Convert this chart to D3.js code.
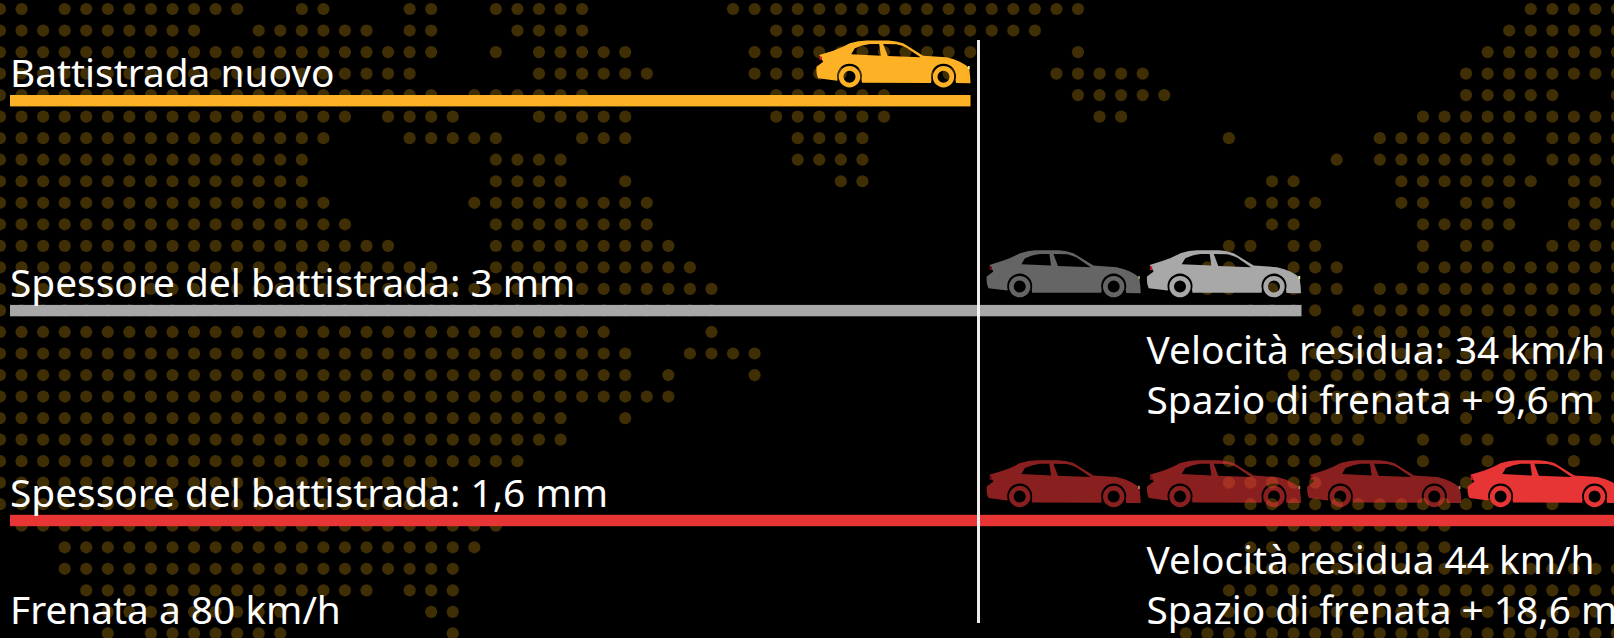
<!DOCTYPE html>
<html>
<head>
<meta charset="utf-8">
<script src="https://d3js.org/d3.v7.min.js"></script>
<style>
  html, body { margin: 0; padding: 0; background: #000; overflow: hidden; }
  text { font-family: "Noto Sans", sans-serif; fill: #fff; }
</style>
</head>
<body>
<div id="chart"></div>
<script>
// tyre groups, top to bottom
const labels = ["Battistrada nuovo", "Spessore del battistrada: 3 mm", "Spessore del battistrada: 1,6 mm"];
// extra stopping distance in metres (the 1,6 mm bar runs off the page)
const extraMetres = [0, 9.6, 19];
const carCounts = [1, 2, 4];
const barColors = ["#fdb124", "#a8a8a8", "#e73434"];

const noteLines = [
  [],
  ["Velocità residua: 34 km/h", "Spazio di frenata + 9,6 m"],
  ["Velocità residua 44 km/h", "Spazio di frenata + 18,6 m"]
];
const footer = "Frenata a 80 km/h";

// dotted world map behind the chart: filled column ranges for each grid row
const dotRows = [
  [[0,1],[3,11],[14,15],[19,20],[23,27],[34,50],[71,75]],
  [[0,9],[12,17],[19,20],[24,27],[36,48],[70,75]],
  [[0,20],[23,23],[25,29],[35,45],[50,50],[69,75]],
  [[0,19],[25,30],[35,44],[49,53],[68,75]],
  [[0,20],[22,27],[36,41],[50,54],[68,72],[75,75]],
  [[0,16],[18,21],[25,29],[36,41],[51,52],[66,75]],
  [[0,15],[19,23],[27,29],[37,40],[57,57],[64,70],[72,75]],
  [[0,14],[23,26],[37,40],[62,62],[64,70],[72,75]],
  [[0,14],[23,26],[29,29],[39,40],[59,60],[65,71],[73,74]],
  [[0,15],[22,30],[58,61],[65,66],[68,70],[73,75]],
  [[0,16],[23,30],[59,60],[66,70],[73,75]],
  [[0,18],[23,31],[57,58],[60,61],[66,66],[68,69],[72,75]],
  [[0,20],[23,32],[56,57],[60,62],[66,75]],
  [[0,33],[56,57],[59,62],[64,75]],
  [[0,33],[58,61],[63,75]],
  [[0,28],[33,33],[62,75]],
  [[0,29],[32,35],[61,75]],
  [[0,29],[31,31],[35,35],[60,75]],
  [[0,31],[59,75]],
  [[0,26],[29,29],[58,65],[68,68],[70,75]],
  [[0,26],[57,63],[66,66],[68,69],[72,75]],
  [[0,24],[57,61],[66,66],[69,69],[73,73]],
  [[0,20],[57,61],[68,68]],
  [[0,20],[58,69],[72,72]],
  [[1,23],[59,67]],
  [[3,22],[58,67]],
  [[3,21],[58,75]],
  [[4,17],[19,21],[57,75]],
  [[5,13],[20,21],[57,75]],
  [[5,5],[7,13],[21,21],[55,75]]
];

const width = 1614, height = 638;

const svg = d3.select("#chart").append("svg")
    .attr("width", width)
    .attr("height", height)
    .style("display", "block");

svg.append("rect").attr("width", width).attr("height", height).attr("fill", "#000");

// background dots
const dotX = d3.scaleLinear().domain([0, 75]).range([0, 1617]);
const dotY = d3.scaleLinear().domain([0, 29]).range([9, 633.4]);

const dots = dotRows.flatMap((ranges, row) =>
    ranges.flatMap(([a, b]) => d3.range(a, b + 1).map(col => ({ row, col }))));

svg.append("g")
    .attr("fill", "#402e05")
    .selectAll("circle")
    .data(dots)
    .join("circle")
    .attr("cx", d => dotX(d.col))
    .attr("cy", d => dotY(d.row))
    .attr("r", 6.1);

// scales for the bars and cars
const x = d3.scaleLinear().domain([0, 9.6]).range([970.5, 1301.5]);
const barLeft = 10;
const y = d3.scaleLinear().domain([0, 2]).range([95, 514.8]);
const barHeight = 11.4;
const carEnd = d3.scaleLinear().domain([1, 4]).range([1140.7, 1621.6]);

svg.append("g")
    .selectAll("rect")
    .data(extraMetres)
    .join("rect")
    .attr("x", barLeft)
    .attr("y", (d, i) => y(i))
    .attr("width", d => x(d) - barLeft)
    .attr("height", barHeight)
    .attr("fill", (d, i) => barColors[i]);

// car pictogram, origin = front end of the car at the top of the bar
const carBody = "M-151.3 -40 L-137.3 -44.3 Q-128 -47.5 -120.7 -51.7 Q-112 -54.6 -104 -54.6 " +
    "L-82 -54.6 Q-74 -54 -67.3 -51.7 L-47.3 -39.3 L-24 -37.7 Q-16 -36 -10.7 -33.3 " +
    "Q-4 -30 -1.3 -26.7 L-0.3 -18 L0 -11.7 L-14.5 -11.9 L-15 -15.3 A12.5 12.5 0 1 0 -39 -15.3 " +
    "L-39.5 -12.1 L-108.5 -12.2 L-109 -15.3 A12.5 12.5 0 1 0 -133 -15.3 L-133.3 -14.3 " +
    "L-152.3 -16.7 Q-154.6 -21 -154 -28.3 L-147.3 -33.3 Z " +
    "M-119.3 -40.7 L-115.7 -46.7 Q-108 -50 -100.7 -51 L-91.3 -51 L-89.7 -39.3 Z " +
    "M-87.3 -51 L-74 -50.7 Q-68 -49.5 -64 -47.3 L-50 -37.7 L-82.7 -39 Z";

const wheel = d3.arc().innerRadius(6).outerRadius(10.7).startAngle(0).endAngle(2 * Math.PI);
const wheelCentres = [-27, -121];

function drawCar(g, color) {
    g.append("path").attr("d", carBody).attr("fill", color).attr("fill-rule", "evenodd");
    g.selectAll("path.wheel")
        .data(wheelCentres)
        .join("path")
        .attr("class", "wheel")
        .attr("d", wheel())
        .attr("transform", d => `translate(${d},-18.3)`)
        .attr("fill", color);
    g.append("rect").attr("x", -151).attr("y", -38.5).attr("width", 2.2).attr("height", 3.6).attr("fill", "#c4162c");
    g.append("rect").attr("x", -2.6).attr("y", -29).attr("width", 1.8).attr("height", 3.2).attr("fill", "#f2eca0");
}

labels.forEach((label, i) => {
    d3.range(1, carCounts[i] + 1).forEach(n => {
        // last car of a row is solid, the ones behind it are faded
        const g = svg.append("g")
            .attr("transform", `translate(${i === 0 ? x(0) : carEnd(n)},${y(i)})`)
            .attr("opacity", n === carCounts[i] ? 1 : 0.6);
        drawCar(g, barColors[i]);
    });
});

// vertical reference line at the new tyre stopping point
svg.append("line")
    .attr("x1", x(0) + 8)
    .attr("x2", x(0) + 8)
    .attr("y1", 40)
    .attr("y2", 623)
    .attr("stroke", "#fff")
    .attr("stroke-opacity", 0.92)
    .attr("stroke-width", 3);

// texts
const fontSize = 38.85;

svg.append("g")
    .selectAll("text")
    .data(labels)
    .join("text")
    .attr("x", barLeft)
    .attr("y", (d, i) => y(i) - 7.6)
    .attr("font-size", fontSize)
    .text(d => d);

svg.append("text")
    .attr("x", barLeft)
    .attr("y", 623.5)
    .attr("font-size", fontSize)
    .text(footer);

noteLines.forEach((lines, i) => {
    svg.append("g")
        .selectAll("text")
        .data(lines)
        .join("text")
        .attr("x", 1146.5)
        .attr("y", (d, j) => y(i) + barHeight + 47.3 + j * 50)
        .attr("font-size", fontSize)
        .text(d => d);
});
</script>
</body>
</html>
